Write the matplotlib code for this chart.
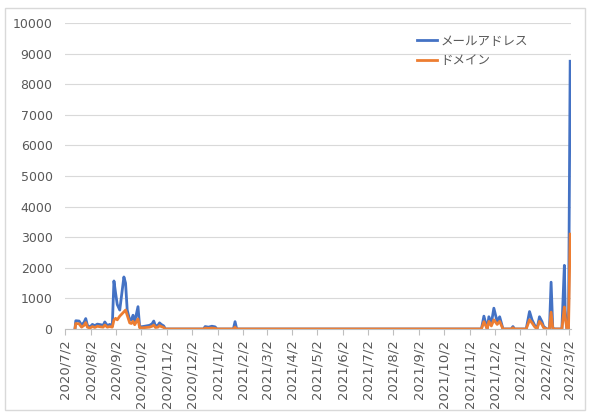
import pandas as pd
import matplotlib.pyplot as plt
from matplotlib.patches import Rectangle

plt.rcParams['font.family'] = ['DejaVu Sans', 'Noto Sans CJK JP']

# daily counts (days not listed sit on the zero line)
dates = [
    "2020-07-14", "2020-07-15", "2020-07-19", "2020-07-22", "2020-07-25", "2020-07-27",
    "2020-07-29", "2020-08-01", "2020-08-04", "2020-08-07", "2020-08-10", "2020-08-14",
    "2020-08-17", "2020-08-19", "2020-08-22", "2020-08-25", "2020-08-28", "2020-08-30",
    "2020-09-01", "2020-09-03", "2020-09-06", "2020-09-11", "2020-09-13", "2020-09-15",
    "2020-09-18", "2020-09-20", "2020-09-22", "2020-09-24", "2020-09-28", "2020-09-30",
    "2020-10-04", "2020-10-08", "2020-10-12", "2020-10-15", "2020-10-17", "2020-10-19",
    "2020-10-22", "2020-10-24", "2020-10-26", "2020-10-29", "2020-10-31",
    "2020-12-16", "2020-12-18", "2020-12-22", "2020-12-26", "2020-12-30", "2021-01-01",
    "2021-01-21", "2021-01-23", "2021-01-25",
    "2021-11-16", "2021-11-19", "2021-11-23", "2021-11-25", "2021-11-28", "2021-12-01",
    "2021-12-05", "2021-12-08", "2021-12-12", "2021-12-22", "2021-12-24", "2021-12-26",
    "2022-01-09", "2022-01-13", "2022-01-16", "2022-01-19", "2022-01-22", "2022-01-25",
    "2022-01-28", "2022-01-30", "2022-02-03", "2022-02-06", "2022-02-08", "2022-02-10",
    "2022-02-11", "2022-02-21", "2022-02-24", "2022-02-25", "2022-02-27", "2022-03-01",
    "2022-03-03",
]
mail = [
    0, 270, 260, 130, 220, 340,
    120, 60, 150, 110, 160, 140,
    120, 230, 110, 150, 100, 1570,
    1170, 800, 620, 1700, 1500, 620,
    290, 300, 450, 230, 730, 70,
    80, 100, 120, 170, 260, 100,
    120, 200, 150, 100, 0,
    0, 80, 60, 90, 70, 0,
    0, 240, 0,
    0, 420, 0, 400, 190, 680,
    240, 400, 0, 0, 80, 0,
    0, 570, 300, 130, 0, 400,
    240, 80, 0, 0, 1530, 30,
    0, 0, 2080, 600, 0, 0,
    8750,
]
domain = [
    0, 180, 170, 60, 120, 210,
    60, 30, 80, 50, 90, 70,
    60, 130, 60, 80, 60, 290,
    350, 300, 420, 560, 620, 450,
    200, 180, 250, 140, 330, 40,
    40, 50, 60, 90, 130, 50,
    60, 110, 80, 50, 0,
    0, 30, 20, 30, 20, 0,
    0, 60, 0,
    0, 240, 0, 250, 100, 300,
    150, 250, 0, 0, 40, 0,
    0, 300, 200, 80, 0, 250,
    150, 40, 0, 0, 550, 20,
    0, 0, 720, 400, 0, 0,
    3100,
]
labels = ["メールアドレス", "ドメイン"]

df = pd.DataFrame({"date": pd.to_datetime(dates), "mail": mail, "domain": domain})

fig = plt.figure(figsize=(5.9, 4.18), dpi=100)
ax = fig.add_axes([65/590, 1 - 329/418, (571 - 65)/590, (329 - 23)/418])

ax.plot(df["date"], df["mail"], color="#4472C4", lw=2, label=labels[0])
ax.plot(df["date"], df["domain"], color="#ED7D31", lw=2, label=labels[1])

ax.set_ylim(0, 10000)
ax.set_yticks(range(0, 10001, 1000))
ax.set_xlim(pd.Timestamp("2020-07-02"), pd.Timestamp("2022-03-04"))
ticks = pd.date_range("2020-07-01", "2022-03-01", freq="MS") + pd.Timedelta(days=1)
ax.set_xticks(ticks)
ax.set_xticklabels([f"{d.year}/{d.month}/{d.day}" for d in ticks], rotation=90)

ax.grid(axis="y", color="#D9D9D9", lw=0.8)
ax.set_axisbelow(True)
for s in ["top", "right", "left"]:
    ax.spines[s].set_visible(False)
ax.spines["bottom"].set_color("#BFBFBF")
ax.tick_params(axis="y", length=0, pad=9, colors="#595959", labelsize=9)
ax.tick_params(axis="x", length=4, color="#BFBFBF", colors="#595959", labelsize=9.5)

leg = ax.legend(loc="upper left", bbox_to_anchor=(0.673, 0.998), frameon=False,
                fontsize=9, handlelength=1.6, handletextpad=0.3, labelspacing=0.5)
for t in leg.get_texts():
    t.set_color("#595959")

fig.patches.append(Rectangle((5/590, 8/418), 580/590, 402/418, transform=fig.transFigure,
                             fill=False, edgecolor="#D9D9D9", lw=1))

fig.savefig("out.png", dpi=100)
